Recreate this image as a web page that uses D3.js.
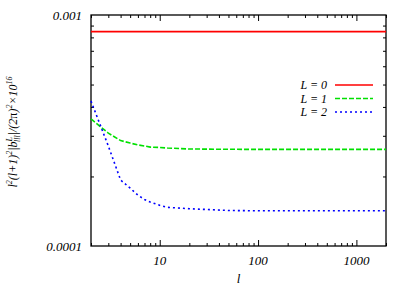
<!DOCTYPE html>
<html>
<head>
<meta charset="utf-8">
<script src="https://cdn.jsdelivr.net/npm/d3@7"></script>
<style>
  body { margin: 0; background: #fff; }
  text { font-family: "Liberation Serif", "DejaVu Serif", serif; font-style: italic; font-size: 13px; fill: #000; }
</style>
</head>
<body>
<div id="chart"></div>
<script>
// Data
var lValues = [2, 3, 4, 5, 6, 7, 8, 10, 12, 20, 50, 100, 500, 2000];
var bispL0 = [0.000847, 0.000847, 0.000847, 0.000847, 0.000847, 0.000847, 0.000847, 0.000847, 0.000847, 0.000847, 0.000847, 0.000847, 0.000847, 0.000847];
var bispL1 = [0.000355, 0.000308, 0.000286, 0.000279, 0.000274, 0.000271, 0.000268, 0.000267, 0.0002655, 0.000263, 0.0002622, 0.000262, 0.000262, 0.000262];
var bispL2 = [0.000424, 0.000271, 0.000193, 0.000178, 0.000166, 0.000159, 0.000155, 0.000150, 0.000147, 0.000145, 0.0001425, 0.000142, 0.000142, 0.000142];
var seriesNames = ["L = 0", "L = 1", "L = 2"];
var xMajorTicks = [10, 100, 1000];
var yLabelTicks = [0.0001, 0.001];

// Chart Params
var svgWidth = 409;
var svgHeight = 286;
var margin = { top: 15, right: 23, bottom: 40, left: 91 };
var width = svgWidth - margin.left - margin.right;
var height = svgHeight - margin.top - margin.bottom;

var svg = d3.select("#chart").append("svg")
  .attr("width", svgWidth)
  .attr("height", svgHeight);

var chartGroup = svg.append("g")
  .attr("transform", `translate(${margin.left}, ${margin.top})`);

var x = d3.scaleLog().domain([2, 2000]).range([0, width]);
var y = d3.scaleLog().domain([0.0001, 0.001]).range([height, 0]);

// minor ticks: 2..9 in each decade
var xMinor = x.ticks().filter(d => xMajorTicks.indexOf(d) < 0);
var yMinor = y.ticks().filter(d => yLabelTicks.indexOf(d) < 0);

function tickAxis(axisFn, scale, values, size) {
  return axisFn(scale).tickValues(values).tickSize(size).tickFormat("");
}

// bottom / top ticks (inward)
chartGroup.append("g").attr("transform", `translate(0, ${height})`)
  .call(tickAxis(d3.axisBottom, x, xMajorTicks, -6));
chartGroup.append("g").attr("transform", `translate(0, ${height})`)
  .call(tickAxis(d3.axisBottom, x, xMinor, -3));
chartGroup.append("g")
  .call(tickAxis(d3.axisTop, x, xMajorTicks, -6));
chartGroup.append("g")
  .call(tickAxis(d3.axisTop, x, xMinor, -3));
// left / right ticks (inward)
chartGroup.append("g")
  .call(tickAxis(d3.axisLeft, y, yMinor, -3));
chartGroup.append("g").attr("transform", `translate(${width}, 0)`)
  .call(tickAxis(d3.axisRight, y, yMinor, -3));

chartGroup.selectAll(".domain").remove();
chartGroup.selectAll(".tick line").attr("stroke", "#000").attr("stroke-width", 1);

// tick labels
chartGroup.selectAll(".xlab").data(xMajorTicks).enter().append("text")
  .attr("x", d => x(d)).attr("y", height + 19)
  .attr("text-anchor", "middle")
  .text(d => d);

chartGroup.selectAll(".ylab").data(yLabelTicks).enter().append("text")
  .attr("x", -9).attr("y", d => y(d)).attr("dy", "0.35em")
  .attr("text-anchor", "end")
  .text(d => d === 0.001 ? "0.001" : "0.0001");

// frame
chartGroup.append("rect")
  .attr("width", width).attr("height", height)
  .attr("fill", "none").attr("stroke", "#000").attr("stroke-width", 1.3);

// lines
var series = [
  { name: seriesNames[0], values: bispL0, color: "#ff0000", dash: null },
  { name: seriesNames[1], values: bispL1, color: "#00e000", dash: "5,2" },
  { name: seriesNames[2], values: bispL2, color: "#0000ff", dash: "2,3" }
];

var line = d3.line()
  .x((d, i) => x(lValues[i]))
  .y(d => y(d));

chartGroup.selectAll(".series").data(series).enter().append("path")
  .attr("d", d => line(d.values))
  .attr("fill", "none")
  .attr("stroke", d => d.color)
  .attr("stroke-width", 1.6)
  .attr("stroke-dasharray", d => d.dash);

// legend
var legend = chartGroup.selectAll(".legend").data(series).enter().append("g")
  .attr("transform", (d, i) => `translate(0, ${70 + i * 13.5})`);
legend.append("text")
  .attr("x", 236).attr("dy", "0.35em")
  .attr("text-anchor", "end")
  .style("font-size", "12px")
  .text(d => d.name);
legend.append("line")
  .attr("x1", 244).attr("x2", 282)
  .attr("stroke", d => d.color)
  .attr("stroke-width", 1.6)
  .attr("stroke-dasharray", d => d.dash);

// axis titles
chartGroup.append("text")
  .attr("x", width / 2).attr("y", height + 37)
  .attr("text-anchor", "middle")
  .text("l");

var yTitle = svg.append("text")
  .attr("text-anchor", "middle")
  .style("font-size", "12px")
  .attr("transform", `translate(17, 132)rotate(-90)`);
yTitle.append("tspan").text("l");
yTitle.append("tspan").attr("dy", -5).style("font-size", "8px").text("2");
yTitle.append("tspan").attr("dy", 5).text("(l+1)");
yTitle.append("tspan").attr("dy", -5).style("font-size", "8px").text("2");
yTitle.append("tspan").attr("dy", 5).text("|b");
yTitle.append("tspan").attr("dy", -5).style("font-size", "8px").text("L");
yTitle.append("tspan").attr("dx", -5).attr("dy", 8).style("font-size", "8px").text("lll");
yTitle.append("tspan").attr("dy", -3).text("|/(2");
yTitle.append("tspan").style("font-style", "normal").text("π");
yTitle.append("tspan").text(")");
yTitle.append("tspan").attr("dy", -5).style("font-size", "8px").text("2");
yTitle.append("tspan").attr("dy", 5).text("×10");
yTitle.append("tspan").attr("dy", -5).style("font-size", "8px").text("16");
</script>
</body>
</html>
